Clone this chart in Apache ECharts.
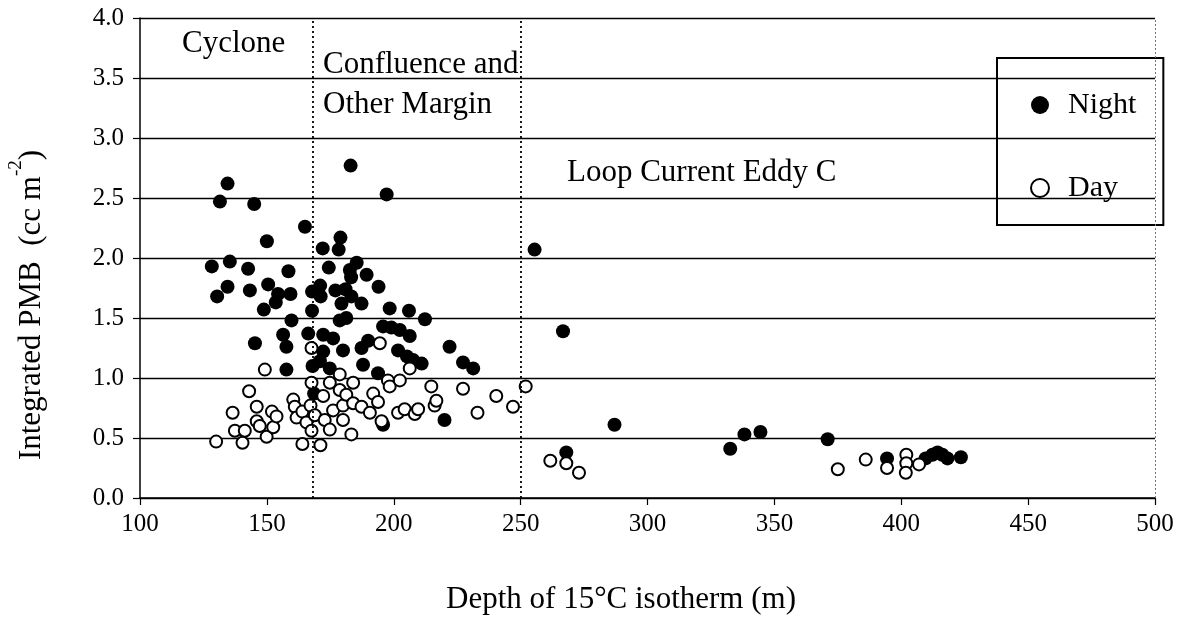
<!DOCTYPE html>
<html>
<head>
<meta charset="utf-8">
<script src="https://cdn.jsdelivr.net/npm/echarts@6/dist/echarts.min.js"></script>
<style>
  html, body { margin: 0; padding: 0; background: #fff; }
  #chart { width: 1195px; height: 618px; }
</style>
</head>
<body>
<div id="chart"></div>
<script>
// Depth of the 15 °C isotherm (m) vs integrated PMB (cc m-2)
const nightPoints = [
  [128.3, 1.93], [130.4, 1.68], [131.5, 2.47], [134.5, 1.76], [135.4, 1.97], [134.5, 2.62],
  [142.6, 1.91], [143.3, 1.73], [145.3, 1.29], [145.0, 2.45], [148.8, 1.57], [150.5, 1.78],
  [150.0, 2.14], [153.5, 1.63], [154.4, 1.70], [156.4, 1.36], [157.7, 1.26], [157.7, 1.07],
  [158.5, 1.89], [159.3, 1.70], [159.7, 1.48], [165.0, 2.26], [166.3, 1.37], [167.8, 1.72],
  [167.8, 1.56], [168.0, 1.10], [168.6, 0.87],
  [171.0, 1.77], [171.2, 1.68], [172.0, 2.08], [172.2, 1.36], [172.2, 1.22], [170.9, 1.14],
  [174.8, 1.08], [174.4, 1.92], [176.1, 1.33], [177.0, 1.73], [178.3, 2.07], [179.4, 1.62],
  [178.7, 1.48], [179.0, 2.17], [180.0, 1.23], [181.0, 1.74], [181.3, 1.50], [182.7, 1.90],
  [183.2, 1.84], [183.3, 1.68], [183.0, 2.77], [185.4, 1.96], [187.3, 1.62], [187.3, 1.25],
  [187.9, 1.11], [189.3, 1.86], [189.9, 1.31], [193.8, 1.04], [194.0, 1.76], [195.8, 1.43],
  [195.8, 0.61], [197.2, 2.53], [198.4, 1.58], [199.1, 1.42], [201.7, 1.23], [202.4, 1.40],
  [205.2, 1.18], [206.0, 1.56], [206.3, 1.35], [207.6, 1.15], [211.0, 1.12], [212.3, 1.49],
  [220.0, 0.65], [222.0, 1.26], [227.3, 1.13], [231.3, 1.08],
  [255.5, 2.07], [266.7, 1.39], [268.0, 0.38], [287.0, 0.61], [332.6, 0.41], [338.2, 0.53],
  [344.5, 0.55], [371.0, 0.49], [394.4, 0.33], [409.6, 0.33], [412.3, 0.36], [414.3, 0.38],
  [416.2, 0.36], [418.2, 0.33], [423.5, 0.34]
];

const dayPoints = [
  [130.0, 0.47], [136.5, 0.71], [137.4, 0.56], [140.4, 0.46], [141.3, 0.56], [143.0, 0.89],
  [146.0, 0.76], [146.0, 0.64], [147.2, 0.60], [149.2, 1.07], [149.9, 0.51], [152.0, 0.72],
  [152.5, 0.59], [153.8, 0.68], [160.4, 0.82], [161.0, 0.76], [161.7, 0.67], [164.0, 0.72],
  [164.0, 0.45], [165.6, 0.63], [167.2, 0.77], [167.6, 0.96], [167.6, 1.25], [167.6, 0.56],
  [168.9, 0.69], [171.1, 0.44], [172.2, 0.85], [172.8, 0.65], [174.8, 0.96], [174.8, 0.57],
  [176.1, 0.73], [178.7, 1.03], [178.7, 0.90], [180.0, 0.77], [180.0, 0.65], [181.3, 0.86],
  [183.3, 0.53], [184.0, 0.96], [184.0, 0.79], [187.3, 0.76], [190.6, 0.71], [191.9, 0.87],
  [193.8, 0.80], [194.5, 1.29], [195.2, 0.64], [197.7, 0.98], [198.4, 0.93], [201.7, 0.71],
  [202.4, 0.98], [204.3, 0.74], [206.3, 1.08], [208.3, 0.70], [209.6, 0.74], [214.8, 0.93],
  [216.1, 0.77], [216.8, 0.81], [227.3, 0.91], [233.0, 0.71], [240.4, 0.85], [247.0, 0.76],
  [252.0, 0.93], [261.7, 0.31], [268.0, 0.29], [273.0, 0.21], [375.0, 0.24], [386.0, 0.32],
  [394.4, 0.25], [402.0, 0.36], [402.0, 0.29], [401.8, 0.21], [407.0, 0.28]
];

// Boundaries between the water-mass regions (m)
const regionBounds = [168, 250];
const regionNames = ['Cyclone', 'Confluence and', 'Other Margin', 'Loop Current Eddy C'];
const seriesNames = ['Night', 'Day'];

const serif = '"Liberation Serif", "Times New Roman", serif';

const chart = echarts.init(document.getElementById('chart'));

chart.setOption({
  backgroundColor: '#fff',
  animation: false,
  grid: { left: 140, right: 40, top: 18, bottom: 120 },
  xAxis: {
    type: 'value',
    min: 100, max: 500, interval: 50,
    axisLine: { show: true, onZero: false, lineStyle: { color: '#000', width: 1.5 } },
    axisTick: { show: true, inside: false, length: 7, lineStyle: { color: '#000', width: 1.2 } },
    axisLabel: { color: '#000', fontFamily: serif, fontSize: 25, margin: 14 },
    splitLine: { show: false }
  },
  yAxis: {
    type: 'value',
    min: 0, max: 4, interval: 0.5,
    axisLine: { show: true, lineStyle: { color: '#000', width: 1.5 } },
    axisTick: { show: true, inside: false, length: 7, lineStyle: { color: '#000', width: 1.2 } },
    axisLabel: { color: '#000', fontFamily: serif, fontSize: 25, margin: 16,
                 formatter: v => v.toFixed(1) },
    splitLine: { show: true, lineStyle: { color: '#000', width: 1.3 } }
  },
  legend: {
    orient: 'vertical',
    left: 997, top: 58,
    data: seriesNames,
    icon: 'circle',
    itemWidth: 18, itemHeight: 18,
    itemGap: 53,
    padding: [32, 27, 22, 33],
    borderColor: '#000', borderWidth: 2,
    textStyle: { color: '#000', fontFamily: serif, fontSize: 30, padding: [0, 0, 0, 14] }
  },
  series: [
    {
      name: 'Night',
      type: 'scatter',
      data: nightPoints,
      symbol: 'circle',
      symbolSize: 14,
      itemStyle: { color: '#000', opacity: 1 },
      z: 3,
      markLine: {
        silent: true,
        symbol: 'none',
        label: { show: false },
        lineStyle: { color: '#000', type: [2, 3], width: 1.8 },
        data: regionBounds.map(v => ({ xAxis: v }))
      }
    },
    {
      name: 'Day',
      type: 'scatter',
      data: dayPoints,
      symbol: 'circle',
      symbolSize: 12,
      itemStyle: { color: '#fff', borderColor: '#000', borderWidth: 2, opacity: 1 },
      z: 4,
      markLine: {
        silent: true,
        symbol: 'none',
        label: { show: false },
        lineStyle: { color: '#777', type: [2, 2], width: 1 },
        data: [{ xAxis: 500 }]
      }
    }
  ],
  graphic: [
    { type: 'text', left: 182, top: 28,
      style: { text: regionNames[0], fontFamily: serif, fontSize: 31, fill: '#000' } },
    { type: 'text', left: 323, top: 49,
      style: { text: regionNames[1], fontFamily: serif, fontSize: 31, fill: '#000' } },
    { type: 'text', left: 323, top: 89,
      style: { text: regionNames[2], fontFamily: serif, fontSize: 31, fill: '#000' } },
    { type: 'text', left: 567, top: 157,
      style: { text: regionNames[3], fontFamily: serif, fontSize: 31, fill: '#000' } },
    // x-axis title
    { type: 'text', x: 621, y: 600,
      style: {
        text: 'Depth of 15°C isotherm (m)',
        fontFamily: serif, fontSize: 31, fill: '#000',
        align: 'center', verticalAlign: 'middle'
      } },
    // y-axis title with superscript exponent
    { type: 'text', x: 27, y: 305, rotation: Math.PI / 2,
      style: {
        text: '{a|Integrated PMB  (cc m}{s|-2}{a|)}',
        align: 'center', verticalAlign: 'middle',
        rich: {
          a: { fontFamily: serif, fontSize: 31, fill: '#000', color: '#000', lineHeight: 40, verticalAlign: 'bottom' },
          s: { fontFamily: serif, fontSize: 19, fill: '#000', color: '#000', lineHeight: 20, verticalAlign: 'top' }
        }
      } }
  ]
});
</script>
</body>
</html>
